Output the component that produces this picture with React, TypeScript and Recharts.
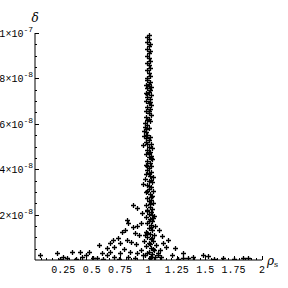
import { ScatterChart, Scatter, XAxis, YAxis, Label } from "recharts";

// delta values are in units of 1e-8
const spikePoints: [number, number][] = [
  [1.0, 9.9], [0.99, 9.82], [1.0, 9.72], [0.99, 9.6], [1.01, 9.52], [1.0, 9.42],
  [0.99, 9.3], [1.01, 9.2], [1.0, 9.1], [0.99, 9.0], [1.0, 8.88], [1.01, 8.78],
  [0.99, 8.7], [1.0, 8.58], [1.01, 8.45], [0.99, 8.35], [1.0, 8.22], [1.01, 8.12],
  [0.99, 8.02], [0.99, 7.92], [1.01, 7.85], [1.0, 7.76], [0.98, 7.7], [1.02, 7.64],
  [0.99, 7.58], [1.01, 7.5], [1.0, 7.42], [0.98, 7.35], [1.02, 7.28], [0.99, 7.2],
  [1.01, 7.1], [0.98, 7.0], [1.0, 6.92], [1.02, 6.84], [0.99, 6.75], [1.01, 6.66],
  [0.98, 6.58], [1.0, 6.48], [1.02, 6.4], [0.98, 6.3], [1.0, 6.22], [1.01, 6.12],
  [0.97, 6.05], [0.99, 5.96], [0.97, 5.88], [1.0, 5.8], [0.96, 5.7], [0.98, 5.62],
  [0.99, 5.52], [0.96, 5.45], [0.98, 5.36], [1.0, 5.28], [0.98, 5.2], [1.02, 5.12],
  [0.95, 5.06], [1.0, 5.0], [1.03, 4.92], [0.99, 4.85], [1.01, 4.76], [0.98, 4.68],
  [1.02, 4.6], [1.0, 4.52], [1.03, 4.44], [0.99, 4.36], [1.01, 4.28], [0.98, 4.2],
  [1.02, 4.12], [1.0, 4.04], [0.99, 3.96], [1.02, 3.88], [0.98, 3.8], [1.01, 3.72],
  [1.04, 3.64], [0.97, 3.58], [1.0, 3.5], [1.03, 3.42], [0.95, 3.36], [0.99, 3.3],
  [1.02, 3.22], [1.0, 3.14], [1.04, 3.06], [0.98, 2.98], [1.01, 2.9], [1.03, 2.82],
  [0.99, 2.74], [1.02, 2.66], [1.0, 2.58], [1.04, 2.5], [0.98, 2.42], [1.01, 2.34],
  [1.03, 2.26], [0.99, 2.18], [1.02, 2.1], [1.0, 2.02], [1.05, 1.95], [0.98, 1.88],
  [1.01, 1.8], [1.03, 1.72], [0.99, 1.64], [1.02, 1.56], [1.06, 1.48], [1.0, 1.4],
  [1.03, 1.32], [0.98, 1.24], [1.01, 1.16], [1.05, 1.08], [0.99, 1.0], [1.02, 0.92],
  [1.04, 0.84], [1.0, 0.76], [1.07, 0.68], [0.98, 0.6], [1.02, 0.52], [1.05, 0.44],
  [1.0, 0.36], [1.03, 0.28], [0.97, 0.2], [1.06, 0.14], [1.01, 0.08],
];

// second pass along the spike, where the column is densest
const spikeFill: [number, number][] = [
  [1.0, 7.66], [0.99, 7.3], [1.01, 6.98], [1.0, 6.55], [0.99, 6.18], [0.98, 5.76],
  [1.01, 5.4], [0.99, 5.1], [1.0, 4.72], [1.02, 4.48], [0.99, 4.14], [1.0, 3.84],
  [1.02, 3.54], [1.0, 3.26], [0.99, 3.02], [1.02, 2.78], [1.01, 2.46], [0.99, 2.22],
  [1.03, 1.98], [1.0, 1.7], [1.02, 1.44], [0.99, 1.2], [1.03, 0.96], [1.01, 0.72],
  [1.04, 0.5], [0.99, 0.32], [1.02, 0.12], [1.04, 1.85], [0.97, 1.1], [1.08, 0.3],
];

const leftTail: [number, number][] = [
  [0.86, 2.42], [0.9, 2.29], [0.94, 2.05], [0.81, 1.76], [0.82, 1.63], [0.93, 1.63],
  [0.86, 1.45], [0.9, 1.5], [0.79, 1.32], [0.77, 1.23], [0.88, 1.2], [0.92, 1.1],
  [0.73, 0.97], [0.69, 0.88], [0.81, 0.88], [0.85, 0.79], [0.75, 0.75], [0.66, 0.75],
  [0.89, 0.7], [0.7, 0.57], [0.63, 0.53], [0.56, 0.66], [0.78, 0.5], [0.66, 0.35],
  [0.59, 0.31], [0.63, 0.22], [0.75, 0.31], [0.84, 0.35], [0.9, 0.31], [0.93, 0.44],
  [0.82, 0.13], [0.7, 0.13], [0.48, 0.35], [0.4, 0.35], [0.33, 0.35], [0.19, 0.31],
  [0.04, 0.22], [0.25, 0.13], [0.41, 0.13], [0.51, 0.09], [0.28, 0.09], [0.22, 0.05],
  [0.36, 0.05], [0.45, 0.2], [0.55, 0.1], [0.6, 0.05], [0.74, 0.05], [0.88, 0.1],
  [0.95, 0.2], [0.96, 0.85],
];

const rightTail: [number, number][] = [
  [1.13, 0.75], [1.15, 0.57], [1.17, 0.88], [1.23, 0.53], [1.21, 0.22], [1.3, 0.31],
  [1.3, 0.09], [1.35, 0.09], [1.39, 0.13], [1.48, 0.22], [1.52, 0.18], [1.66, 0.09],
  [1.83, 0.09], [1.88, 0.09], [1.1, 0.44], [1.08, 0.22], [1.12, 1.05], [1.09, 1.3],
  [1.11, 0.15], [1.26, 0.05], [1.58, 0.05], [1.75, 0.05],
];

const xMajorTicks = [0.25, 0.5, 0.75, 1, 1.25, 1.5, 1.75, 2];
const xTickLabels = ["0.25", "0.5", "0.75", "1", "1.25", "1.5", "1.75", "2"];
const xMinorTicks = [
  0.05, 0.1, 0.15, 0.2, 0.3, 0.35, 0.4, 0.45, 0.55, 0.6, 0.65, 0.7, 0.8, 0.85, 0.9, 0.95,
  1.05, 1.1, 1.15, 1.2, 1.3, 1.35, 1.4, 1.45, 1.55, 1.6, 1.65, 1.7, 1.8, 1.85, 1.9, 1.95,
];

const yMajorTicks = [2, 4, 6, 8, 10];
const yMantissas = ["2", "4", "6", "8", "1"];
const yExponents = ["-8", "-8", "-8", "-8", "-7"];
const yMinorTicks = [0.5, 1, 1.5, 2.5, 3, 3.5, 4.5, 5, 5.5, 6.5, 7, 7.5, 8.5, 9, 9.5];

const data = [...spikePoints, ...spikeFill, ...leftTail, ...rightTail].map(([rho, delta]) => ({
  rho,
  delta,
}));

const FONT = "'Liberation Mono', 'DejaVu Sans Mono', monospace";

function Cross(props: any) {
  const x = Math.round(props.cx) + 0.5;
  const y = Math.round(props.cy) + 0.5;
  return (
    <path
      d={`M${x - 2.5},${y}h5M${x},${y - 2.5}v5`}
      stroke="#000"
      strokeWidth={1.3}
      fill="none"
    />
  );
}

function XTick(props: any) {
  const { x, y, payload } = props;
  const i = xMajorTicks.indexOf(payload.value);
  const len = i >= 0 ? 4 : 2;
  const px = Math.round(x) + 0.5;
  return (
    <g>
      <line x1={px} x2={px} y1={y} y2={y - len} stroke="#000" strokeWidth={1} />
      {i >= 0 && (
        <text x={x} y={y + 13} textAnchor="middle" fontFamily={FONT} fontSize={10} fill="#000">
          {xTickLabels[i]}
        </text>
      )}
    </g>
  );
}

function YTick(props: any) {
  const { x, y, payload } = props;
  const i = yMajorTicks.indexOf(payload.value);
  const len = i >= 0 ? 4 : 2;
  const py = Math.round(y) + 0.5;
  return (
    <g>
      <line x1={x} x2={x + len} y1={py} y2={py} stroke="#000" strokeWidth={1} />
      {i >= 0 && (
        <text x={x - 2} y={y + 4} textAnchor="end" fontFamily={FONT} fontSize={10} fill="#000">
          {yMantissas[i]}×10
          <tspan dy={-5} fontSize={8}>{yExponents[i]}</tspan>
        </text>
      )}
    </g>
  );
}

export default function App() {
  return (
    <div style={{ position: "absolute", left: 0, top: 0, width: 288, height: 288, background: "#fff" }}>
      <ScatterChart width={288} height={288} margin={{ top: 33, right: 26, left: 34, bottom: 27 }}>
        <XAxis
          type="number"
          dataKey="rho"
          domain={[0, 2]}
          ticks={[...xMinorTicks, ...xMajorTicks]}
          height={1}
          tickSize={0}
          tickMargin={0}
          tickLine={false}
          tick={XTick}
          interval={0}
          axisLine={{ stroke: "#000", strokeWidth: 1 }}
          allowDataOverflow
        >
          <Label
            content={({ viewBox }: any) => (
              <text x={viewBox.x + viewBox.width + 5} y={viewBox.y + 5} fontFamily="'DejaVu Serif', serif" fontStyle="italic" fontSize={12} fill="#000">
                ρ<tspan dy={2} fontSize={8} fontStyle="normal">s</tspan>
              </text>
            )}
          />
        </XAxis>
        <YAxis
          type="number"
          dataKey="delta"
          domain={[0, 10]}
          ticks={[...yMinorTicks, ...yMajorTicks]}
          width={1}
          tickSize={0}
          tickMargin={0}
          tickLine={false}
          tick={YTick}
          interval={0}
          axisLine={{ stroke: "#000", strokeWidth: 1 }}
          allowDataOverflow
        >
          <Label
            content={({ viewBox }: any) => (
              <text x={viewBox.x + viewBox.width} y={viewBox.y - 11} textAnchor="middle" fontFamily="'DejaVu Serif', serif" fontStyle="italic" fontSize={12} fill="#000">
                δ
              </text>
            )}
          />
        </YAxis>
        <Scatter data={data} shape={Cross} isAnimationActive={false} />
      </ScatterChart>
    </div>
  );
}
